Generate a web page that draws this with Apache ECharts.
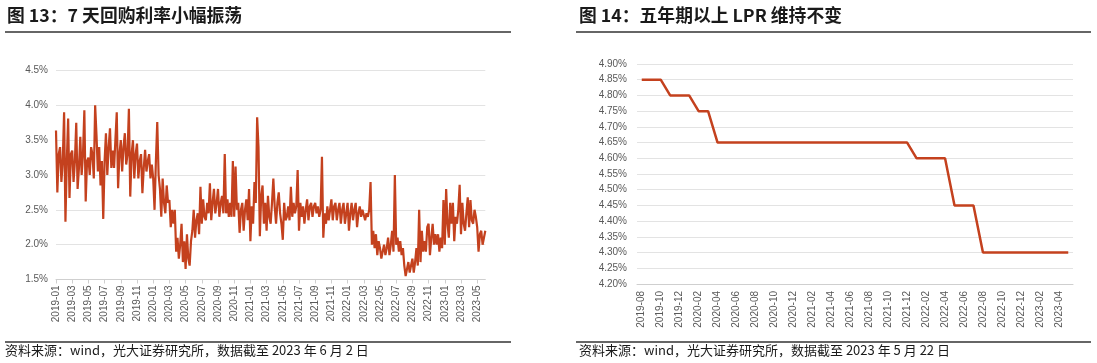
<!DOCTYPE html>
<html><head><meta charset="utf-8">
<script src="https://cdn.jsdelivr.net/npm/echarts@6/dist/echarts.min.js"></script>
<style>html,body{margin:0;padding:0;background:#fff}#c{width:1097px;height:363px}</style>
</head><body><div id="c"></div>
<script>
// ---- Figure 13: 7-day repo rate (%), 6 readings per month, 2019-01 .. 2023-05, plus 2023-06-02
const repo2019 = [
  3.64,2.75,3.30,3.40,2.90,3.20, 3.90,2.33,3.20,3.81,2.67,3.30, 3.35,2.90,3.20,3.75,2.80,3.10,
  3.55,3.00,3.30,3.93,2.62,3.20, 3.25,3.00,3.40,3.30,2.95,4.00, 3.57,3.05,3.40,2.85,3.20,2.37,
  3.20,3.60,3.00,3.40,3.67,3.10, 3.35,3.10,3.50,3.90,2.81,3.30, 3.50,3.05,3.40,3.60,3.15,3.30,
  3.95,2.69,3.30,3.50,2.95,3.30, 3.45,2.95,3.20,3.30,2.74,3.10, 3.36,3.05,3.20,3.30,2.95,3.15
];
const repo2020 = [
  2.95,2.50,3.20,3.76,3.00,2.80, 2.40,2.95,2.60,2.45,2.85,2.60, 2.64,2.25,2.50,2.30,2.50,1.90,
  2.10,1.80,2.00,2.30,1.75,2.05, 1.65,2.15,1.80,1.70,2.05,2.20, 2.50,2.10,2.35,2.45,2.15,2.83,
  2.30,2.65,2.40,2.35,2.60,2.45, 2.88,2.35,2.60,2.80,2.45,2.60, 2.80,2.40,2.60,2.70,2.45,3.30,
  2.45,2.65,2.40,2.60,2.40,3.20, 2.40,3.12,2.50,2.60,2.17,2.50, 2.60,2.20,2.50,2.65,2.35,2.80
];
const repo2021 = [
  2.05,2.55,2.30,2.90,2.60,3.83, 3.40,2.12,2.70,2.85,2.30,2.60, 2.20,2.70,2.40,2.30,2.60,2.95,
  2.55,2.30,2.60,2.75,2.45,2.30, 2.07,2.60,2.35,2.40,2.55,2.35, 2.83,2.40,2.60,2.45,2.55,3.07,
  2.20,2.60,2.40,2.55,2.30,2.50, 2.65,2.35,2.55,2.60,2.40,2.55, 2.60,2.45,2.55,2.40,2.50,3.26,
  2.10,2.45,2.30,2.55,2.35,2.50, 2.65,2.35,2.55,2.60,2.35,2.50, 2.60,2.30,2.50,2.60,2.30,2.45
];
const repo2022 = [
  2.60,2.20,2.45,2.60,2.35,2.50, 2.60,2.25,2.45,2.55,2.40,2.50, 2.50,2.35,2.45,2.40,2.50,2.90,
  2.00,2.20,1.95,2.15,1.85,2.05, 1.95,1.80,1.90,2.00,1.85,1.95, 2.10,1.85,2.00,2.20,1.90,3.00,
  2.00,2.10,1.90,2.05,1.85,1.95, 1.70,1.55,1.65,1.75,1.60,1.70, 1.80,1.60,1.75,1.95,1.70,2.50,
  1.75,2.20,1.90,2.05,1.90,2.25, 2.30,1.85,2.10,2.30,2.00,2.15, 2.00,2.15,1.90,2.10,1.95,2.64
];
const repo2023 = [
  2.00,2.80,2.30,2.10,2.60,2.30, 2.60,2.05,2.40,2.30,2.50,2.86, 2.15,2.60,2.30,2.20,2.45,2.68,
  2.25,2.64,2.35,2.30,2.50,2.40, 2.25,1.90,2.15,2.20,2.00,2.10, 2.20
];
const PER_MONTH = 6;
const repoMonths = [];
for (let y = 2019; y <= 2023; y++) for (let m = 1; m <= 12; m++) {
  if (y === 2023 && m > 5) break;
  repoMonths.push(y + '-' + String(m).padStart(2, '0'));
}
const repoCats = [];
repoMonths.forEach(mo => { for (let k = 0; k < PER_MONTH; k++) repoCats.push(mo); });
repoCats.push('2023-06');
const repoValues = [].concat(repo2019, repo2020, repo2021, repo2022, repo2023);
const repoTicks = ['1.5%','2.0%','2.5%','3.0%','3.5%','4.0%','4.5%'];

// ---- Figure 14: 5Y+ LPR (%), monthly 2019-08 .. 2023-05
const lprMonths = [];
for (let y = 2019; y <= 2023; y++) for (let m = 1; m <= 12; m++) {
  if (y === 2019 && m < 8) continue;
  if (y === 2023 && m > 5) break;
  lprMonths.push(y + '-' + String(m).padStart(2, '0'));
}
const lpr2019 = [4.85,4.85,4.85,4.80,4.80];
const lpr2020 = [4.80,4.75,4.75,4.65,4.65,4.65,4.65,4.65,4.65,4.65,4.65,4.65];
const lpr2021 = [4.65,4.65,4.65,4.65,4.65,4.65,4.65,4.65,4.65,4.65,4.65,4.65];
const lpr2022 = [4.60,4.60,4.60,4.60,4.45,4.45,4.45,4.30,4.30,4.30,4.30,4.30];
const lpr2023 = [4.30,4.30,4.30,4.30,4.30];
const lprValues = [].concat(lpr2019, lpr2020, lpr2021, lpr2022, lpr2023);

const LINE = '#C4411E';
const GRIDC = '#e3e3e3';
const LBL = '#595959';
const LATIN = 'Liberation Sans, Arial, sans-serif';
const CJK = '"Noto Sans CJK SC", "Noto Sans", sans-serif';

const chart = echarts.init(document.getElementById('c'), null, {renderer: 'canvas'});
chart.setOption({
  animation: false,
  textStyle: {fontFamily: LATIN},
  grid: [
    {left: 56, right: 1097 - 485.3, top: 70.5, height: 209},
    {left: 637, right: 1097 - 1073, top: 64, height: 220}
  ],
  xAxis: [
    {
      gridIndex: 0, type: 'category', data: repoCats, boundaryGap: false,
      axisLine: {lineStyle: {color: '#cfcfcf'}},
      axisTick: {interval: (i) => i % (2 * PER_MONTH) === 0, length: 4, lineStyle: {color: '#cfcfcf'}},
      axisLabel: {interval: (i) => i % (2 * PER_MONTH) === 0, rotate: 90, fontSize: 10, color: LBL, margin: 6, fontFamily: LATIN},
      splitLine: {show: false}
    },
    {
      gridIndex: 1, type: 'category', data: lprMonths, boundaryGap: true,
      axisLine: {lineStyle: {color: '#cfcfcf'}},
      axisTick: {interval: 0, length: 4, lineStyle: {color: '#cfcfcf'}},
      axisLabel: {interval: 1, rotate: 90, fontSize: 10, color: LBL, margin: 7, fontFamily: LATIN},
      splitLine: {show: false}
    }
  ],
  yAxis: [
    {
      gridIndex: 0, type: 'value', min: 1.5, max: 4.5, interval: 0.5,
      axisLine: {show: false}, axisTick: {show: false},
      axisLabel: {fontSize: 10, color: LBL, margin: 8, fontFamily: LATIN,
        formatter: (v) => repoTicks[Math.round((v - 1.5) / 0.5)]},
      splitLine: {lineStyle: {color: GRIDC, width: 1}}
    },
    {
      gridIndex: 1, type: 'value', min: 4.2, max: 4.9, interval: 0.05,
      axisLine: {show: false}, axisTick: {show: false},
      axisLabel: {fontSize: 10, color: LBL, margin: 10, fontFamily: LATIN,
        formatter: (v) => v.toFixed(2) + '%'},
      splitLine: {lineStyle: {color: GRIDC, width: 1}}
    }
  ],
  series: [
    {type: 'line', xAxisIndex: 0, yAxisIndex: 0, data: repoValues, showSymbol: false,
      lineStyle: {color: LINE, width: 2.2}, itemStyle: {color: LINE}},
    {type: 'line', xAxisIndex: 1, yAxisIndex: 1, data: lprValues, showSymbol: false,
      lineStyle: {color: LINE, width: 2.5}, itemStyle: {color: LINE}}
  ],
  graphic: [
    {type: 'text', left: 7, top: 6, style: {text: '图 13：7 天回购利率小幅振荡', font: 'bold 17.8px ' + CJK, fill: '#1a1a1a'}},
    {type: 'line', shape: {x1: 5, y1: 32, x2: 511, y2: 32}, style: {stroke: '#333', lineWidth: 1.5}},
    {type: 'line', shape: {x1: 5, y1: 342, x2: 511, y2: 342}, style: {stroke: '#333', lineWidth: 1.5}},
    {type: 'text', left: 5, top: 344, style: {text: '资料来源：wind，光大证券研究所，数据截至 2023 年 6 月 2 日', font: '13px ' + CJK, fill: '#1a1a1a'}},
    {type: 'text', left: 579, top: 6, style: {text: '图 14：五年期以上 LPR 维持不变', font: 'bold 17.8px ' + CJK, fill: '#1a1a1a'}},
    {type: 'line', shape: {x1: 576, y1: 32, x2: 1091, y2: 32}, style: {stroke: '#333', lineWidth: 1.5}},
    {type: 'line', shape: {x1: 576, y1: 342, x2: 1091, y2: 342}, style: {stroke: '#333', lineWidth: 1.5}},
    {type: 'text', left: 579, top: 344, style: {text: '资料来源：wind，光大证券研究所，数据截至 2023 年 5 月 22 日', font: '13px ' + CJK, fill: '#1a1a1a'}}
  ]
});
</script></body></html>
